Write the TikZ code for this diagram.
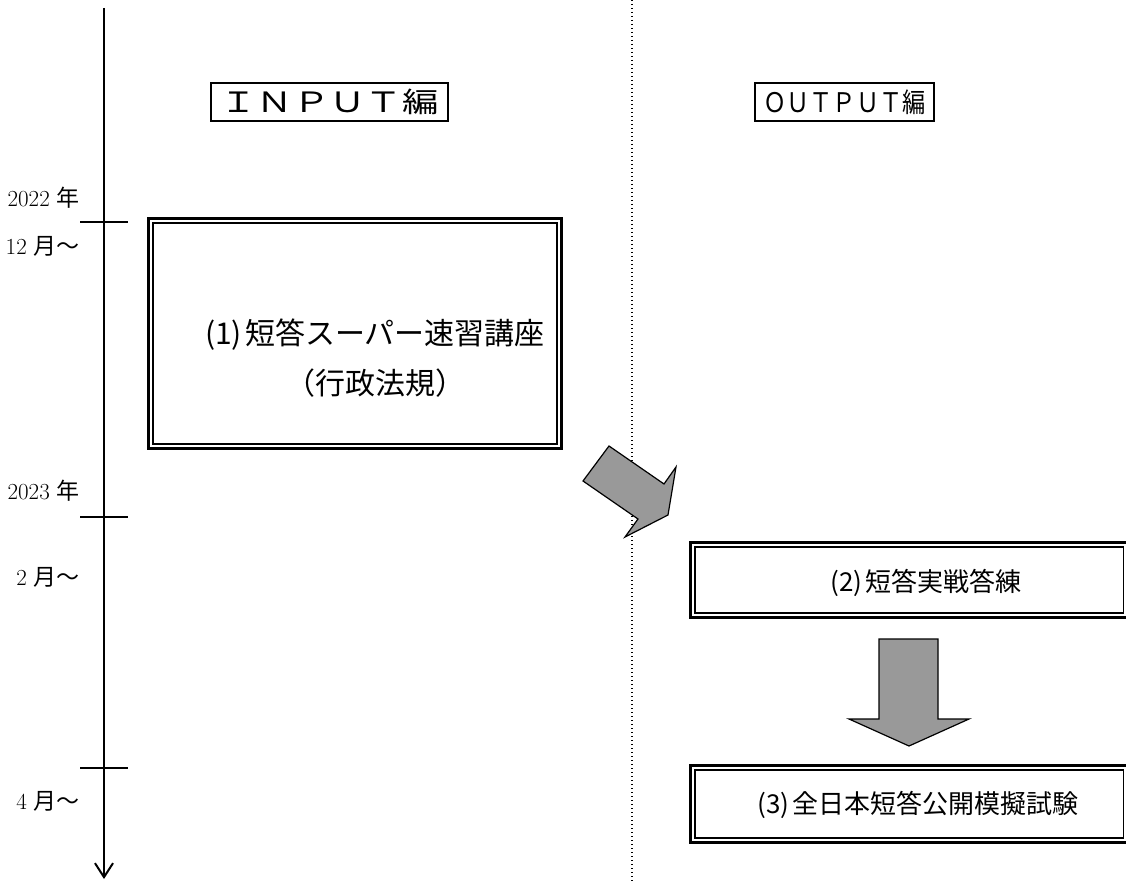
\documentclass[tikz,border=0pt]{standalone}
\usepackage{fontspec}
\newfontfamily\jp{Noto Sans CJK JP}
\usetikzlibrary{arrows.meta}

\tikzset{
  headbox/.style={draw, line width=1.5pt, minimum height=38pt, inner sep=0pt},
  dblbox/.style={draw, line width=3pt, inner sep=0pt},
  dblinner/.style={line width=1.5pt},
  blockarrow/.style={draw, fill=gray!80, line width=1.2pt, line join=miter},
  tickline/.style={line width=1.5pt},
  datelabel/.style={anchor=east, inner sep=0pt, font=\fontsize{23}{25}\selectfont},
  boxtext/.style={inner sep=0pt, font=\jp\fontsize{26}{30}\selectfont},
}

% second (thin) frame inside a double box
\newcommand{\innerframe}[1]{%
  \draw[dblinner] ([shift={(6pt,-6pt)}]#1.north west) rectangle ([shift={(-6pt,6pt)}]#1.south east);}

\begin{document}
\begin{tikzpicture}[x=1pt,y=-1pt]
  \useasboundingbox (0,0) rectangle (1126,882);

  % time line
  \coordinate (tltop) at (104,8);
  \coordinate (tlend) at (104,879);
  \draw[line width=2pt, -{Straight Barb[length=14pt,width=18pt,line width=2pt]}] (tltop) -- (tlend);
  \foreach \y in {222,517,768}
    \draw[tickline] (80,\y) -- (128,\y);

  \node[datelabel] (y2022) at (80,198) {2022 {\jp 年}};
  \node[datelabel] (m12) at (80,246) {12 {\jp 月～}};
  \node[datelabel] (y2023) at (80,491) {2023 {\jp 年}};
  \node[datelabel] (m2) at (80,577) {2 {\jp 月～}};
  \node[datelabel] (m4) at (80,801) {4 {\jp 月～}};

  % separator
  \coordinate (septop) at (632,0);
  \coordinate (sepbot) at (632,882);
  \draw[line width=1.3pt, dash pattern=on 1.4pt off 2.6pt] (septop) -- (sepbot);

  % headings
  \node[headbox, minimum width=237pt] (inhead) at (329.5,102)
    {\jp\scalebox{1.3}[1]{\fontsize{28}{28}\selectfont ＩＮＰＵＴ編}};
  \node[headbox, minimum width=179pt] (outhead) at (844.5,102)
    {\jp\scalebox{0.86}[1]{\fontsize{27}{27}\selectfont ＯＵＴＰＵＴ編}};

  % (1)
  \node[dblbox, minimum width=413pt, minimum height=230pt] (c1) at (355,333.5) {};
  \innerframe{c1}
  \node[boxtext, font=\jp\fontsize{30}{34}\selectfont] (c1a) at (375,335) {(1)\kern3pt 短答スーパー速習講座};
  \node[boxtext, font=\jp\fontsize{30}{34}\selectfont] (c1b) at (375,383) {（行政法規）};

  % (2)
  \node[dblbox, minimum width=437.5pt, minimum height=75pt] (c2) at (909.25,580) {};
  \innerframe{c2}
  \node[boxtext] (c2a) at (926,583) {(2)\kern3pt 短答実戦答練};

  % (3)
  \node[dblbox, minimum width=437.5pt, minimum height=77pt] (c3) at (909.25,804) {};
  \innerframe{c3}
  \node[boxtext] (c3a) at (918,805) {(3)\kern3pt 全日本短答公開模擬試験};

  % block arrows
  \draw[blockarrow] (609,446) -- (664,484) -- (676,467) -- (668,515)
    -- (625,537) -- (638,519) -- (583,481) -- cycle;
  \draw[blockarrow] (879,639) -- (938,639) -- (938,719) -- (969,719)
    -- (909,746) -- (849,719) -- (879,719) -- cycle;
\end{tikzpicture}
\end{document}
